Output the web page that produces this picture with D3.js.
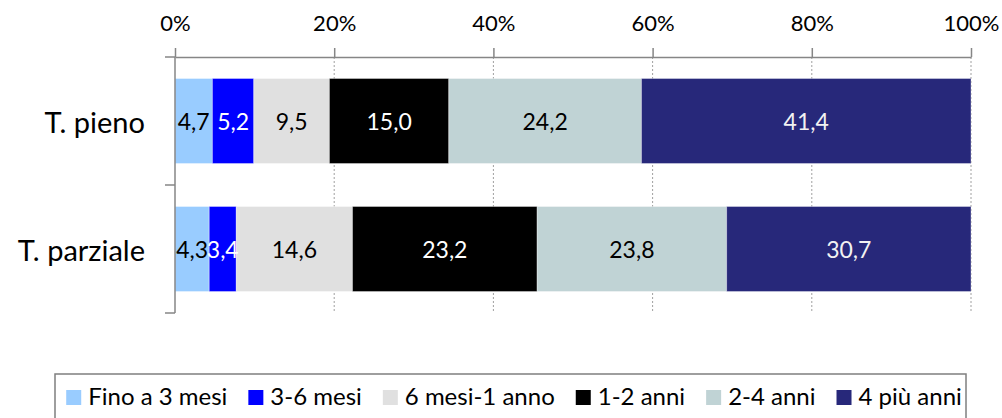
<!DOCTYPE html>
<html>
<head>
<meta charset="utf-8">
<script src="https://cdn.jsdelivr.net/npm/d3@7"></script>
<style>
  html, body { margin: 0; padding: 0; background: #fff; }
  svg { display: block; font-family: Lato, "Open Sans", sans-serif; }
</style>
</head>
<body>
<svg id="chart" width="1002" height="418"></svg>
<script>
const categories = ["T. pieno", "T. parziale"];
const seriesNames = ["Fino a 3 mesi", "3-6 mesi", "6 mesi-1 anno", "1-2 anni", "2-4 anni", "4 più anni"];
const tPieno = [4.7, 5.2, 9.5, 15.0, 24.2, 41.4];
const tParziale = [4.3, 3.4, 14.6, 23.2, 23.8, 30.7];
const tickValues = [0, 20, 40, 60, 80, 100];
const tickLabels = ["0%", "20%", "40%", "60%", "80%", "100%"];

const colors = ["#99ccff", "#0000ff", "#e0e0e0", "#000000", "#c0d3d5", "#27287a"];
const labelColors = ["#000", "#fff", "#000", "#fff", "#000", "#f2f2f2"];

const rows = [tPieno, tParziale];
const table = categories.map((c, i) => {
  const o = { cat: c };
  seriesNames.forEach((s, j) => o[s] = rows[i][j]);
  return o;
});
const stacked = d3.stack().keys(seriesNames)(table);

const svg = d3.select("#chart");
const x = d3.scaleLinear().domain([0, 100]).range([175, 971]);
const y = d3.scaleBand().domain(categories).range([57, 313]).paddingInner(0.336).paddingOuter(0.168);
const axisColor = "#868686";

// gridlines (dotted)
svg.append("g").selectAll("line").data(tickValues.slice(1)).join("line")
  .attr("x1", d => x(d)).attr("x2", d => x(d))
  .attr("y1", y.range()[0]).attr("y2", y.range()[1])
  .attr("stroke", "#a0a0a0").attr("stroke-width", 1).attr("stroke-dasharray", "2,2");

// bars
const layers = svg.append("g").selectAll("g").data(stacked).join("g")
  .attr("fill", (d, i) => colors[i]);
layers.selectAll("rect").data(d => d).join("rect")
  .attr("x", d => x(d[0]))
  .attr("width", d => x(d[1]) - x(d[0]))
  .attr("y", d => y(d.data.cat))
  .attr("height", y.bandwidth())
  .attr("stroke", "rgba(255,255,255,0.35)").attr("stroke-width", 1);

// data labels
const fmt = v => d3.format(".1f")(v).replace(".", ",");
svg.append("g").selectAll("g").data(stacked).join("g")
  .attr("fill", (d, i) => labelColors[i])
  .selectAll("text").data(d => d).join("text")
  .attr("x", d => (x(d[0]) + x(d[1])) / 2)
  .attr("y", d => y(d.data.cat) + y.bandwidth() / 2)
  .attr("text-anchor", "middle").attr("dominant-baseline", "central")
  .attr("font-size", 23)
  .text(d => fmt(d[1] - d[0]));

// top axis
const xAxis = d3.axisTop(x).tickValues(tickValues).tickFormat((d, i) => tickLabels[i]).tickSize(9).tickSizeOuter(0).tickPadding(17);
const gx = svg.append("g").attr("transform", `translate(0,${y.range()[0]})`).call(xAxis);
gx.select(".domain").attr("stroke", axisColor).attr("stroke-width", 1.5);
gx.selectAll(".tick line").attr("stroke", axisColor).attr("stroke-width", 1.5);
gx.selectAll(".tick text").attr("font-size", 22).attr("fill", "#000").attr("font-family", "Lato, sans-serif");

// left axis
const step = y.step();
const bounds = d3.range(categories.length + 1).map(i => y.range()[0] + i * step);
svg.append("line").attr("x1", x(0)).attr("x2", x(0))
  .attr("y1", bounds[0]).attr("y2", bounds[bounds.length - 1])
  .attr("stroke", axisColor).attr("stroke-width", 1.5);
svg.append("g").selectAll("line").data(bounds).join("line")
  .attr("x1", x(0) - 10).attr("x2", x(0))
  .attr("y1", d => d).attr("y2", d => d)
  .attr("stroke", axisColor).attr("stroke-width", 1.5);
svg.append("g").selectAll("text").data(categories).join("text")
  .attr("x", x(0) - 30)
  .attr("y", d => y(d) + y.bandwidth() / 2)
  .attr("text-anchor", "end").attr("dominant-baseline", "central")
  .attr("font-size", 29).attr("fill", "#000")
  .text(d => d);

// legend
svg.append("rect").attr("x", 55).attr("y", 374).attr("width", 911).attr("height", 60)
  .attr("fill", "#fff").attr("stroke", "#7f7f7f").attr("stroke-width", 1.5);
const lg = svg.append("g");
let cx = 0;
seriesNames.forEach((s, i) => {
  const g = lg.append("g");
  g.append("rect").attr("x", 0).attr("y", -15).attr("width", 15).attr("height", 15).attr("fill", colors[i]);
  const t = g.append("text").attr("x", 22).attr("y", 0).attr("font-size", 24).attr("fill", "#000").text(s);
  const w = 22 + t.node().getComputedTextLength();
  g.attr("transform", `translate(${cx},405)`);
  cx += w + 21;
});
const total = cx - 21;
const startX = 514 - total / 2;
lg.attr("transform", `translate(${startX},0)`);
</script>
</body>
</html>
